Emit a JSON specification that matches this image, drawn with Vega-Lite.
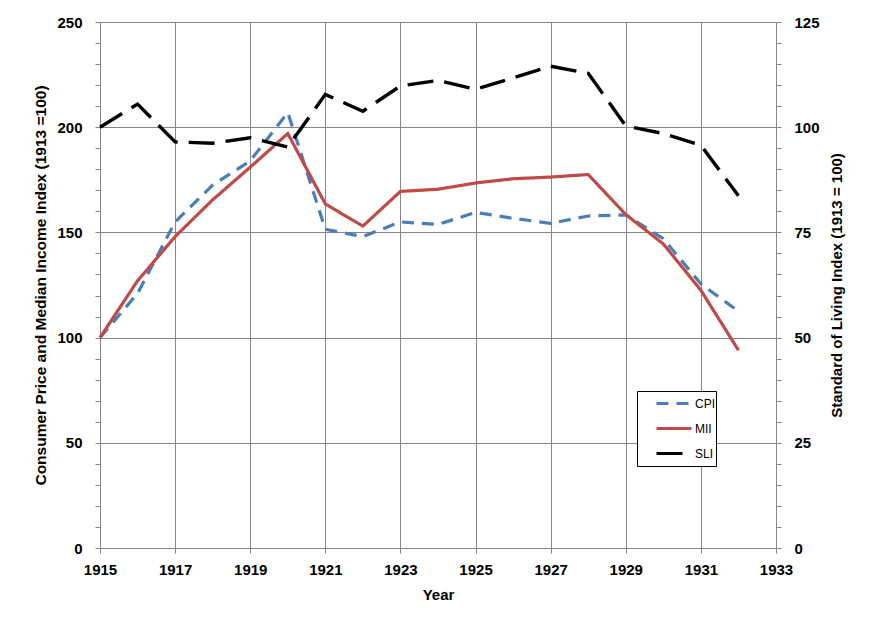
{
  "$schema": "https://vega.github.io/schema/vega-lite/v6.json",
  "width": 676,
  "height": 526,
  "autosize": {"type": "none"},
  "padding": {"left": 100, "top": 22, "right": 93, "bottom": 72},
  "background": "white",
  "config": {
    "view": {"stroke": null},
    "font": "Liberation Sans",
    "axis": {
      "domainColor": "#868686",
      "tickColor": "#868686",
      "gridColor": "#868686",
      "labelFont": "Liberation Sans",
      "labelFontWeight": "bold",
      "labelFontSize": 15,
      "labelColor": "black",
      "titleFont": "Liberation Sans",
      "titleFontWeight": "bold",
      "titleFontSize": 15,
      "titleColor": "black",
      "tickSize": 5,
      "labelOverlap": false,
      "labelFlush": false,
      "labelBound": false
    },
    "legend": {
      "orient": "none",
      "legendX": 537,
      "legendY": 369,
      "padding": 0,
      "strokeColor": "black",
      "fillColor": "white",
      "symbolType": "stroke",
      "symbolSize": 1225,
      "symbolStrokeWidth": 3,
      "symbolOffset": 18,
      "clipHeight": 25,
      "rowPadding": 0,
      "labelFont": "Liberation Sans",
      "labelFontSize": 12,
      "labelOffset": 2,
      "labelColor": "black"
    }
  },
  "datasets": {
    "left": [
      {"year": 1915, "series": "CPI", "value": 100},
      {"year": 1916, "series": "CPI", "value": 121},
      {"year": 1917, "series": "CPI", "value": 155},
      {"year": 1918, "series": "CPI", "value": 172.5},
      {"year": 1919, "series": "CPI", "value": 184},
      {"year": 1920, "series": "CPI", "value": 207},
      {"year": 1921, "series": "CPI", "value": 151.5},
      {"year": 1922, "series": "CPI", "value": 148},
      {"year": 1923, "series": "CPI", "value": 155},
      {"year": 1924, "series": "CPI", "value": 153.8},
      {"year": 1925, "series": "CPI", "value": 159.5},
      {"year": 1926, "series": "CPI", "value": 156.7},
      {"year": 1927, "series": "CPI", "value": 154.3},
      {"year": 1928, "series": "CPI", "value": 157.8},
      {"year": 1929, "series": "CPI", "value": 158.3},
      {"year": 1930, "series": "CPI", "value": 147},
      {"year": 1931, "series": "CPI", "value": 125.5},
      {"year": 1932, "series": "CPI", "value": 112.5},
      {"year": 1915, "series": "MII", "value": 100},
      {"year": 1916, "series": "MII", "value": 127},
      {"year": 1917, "series": "MII", "value": 148},
      {"year": 1918, "series": "MII", "value": 165.5},
      {"year": 1919, "series": "MII", "value": 181},
      {"year": 1920, "series": "MII", "value": 197},
      {"year": 1921, "series": "MII", "value": 163.5},
      {"year": 1922, "series": "MII", "value": 153},
      {"year": 1923, "series": "MII", "value": 169.5},
      {"year": 1924, "series": "MII", "value": 170.5},
      {"year": 1925, "series": "MII", "value": 173.5},
      {"year": 1926, "series": "MII", "value": 175.5},
      {"year": 1927, "series": "MII", "value": 176.3},
      {"year": 1928, "series": "MII", "value": 177.5},
      {"year": 1929, "series": "MII", "value": 158.5},
      {"year": 1930, "series": "MII", "value": 144.5},
      {"year": 1931, "series": "MII", "value": 122.5},
      {"year": 1932, "series": "MII", "value": 94}
    ],
    "right": [
      {"year": 1915, "series": "SLI", "value": 100},
      {"year": 1916, "series": "SLI", "value": 105.5},
      {"year": 1917, "series": "SLI", "value": 96.5},
      {"year": 1918, "series": "SLI", "value": 96.2},
      {"year": 1919, "series": "SLI", "value": 97.5},
      {"year": 1920, "series": "SLI", "value": 95.3},
      {"year": 1921, "series": "SLI", "value": 107.8},
      {"year": 1922, "series": "SLI", "value": 103.8},
      {"year": 1923, "series": "SLI", "value": 109.8},
      {"year": 1924, "series": "SLI", "value": 111.1},
      {"year": 1925, "series": "SLI", "value": 109},
      {"year": 1926, "series": "SLI", "value": 111.7},
      {"year": 1927, "series": "SLI", "value": 114.5},
      {"year": 1928, "series": "SLI", "value": 112.8},
      {"year": 1929, "series": "SLI", "value": 100.3},
      {"year": 1930, "series": "SLI", "value": 98.5},
      {"year": 1931, "series": "SLI", "value": 95.7},
      {"year": 1932, "series": "SLI", "value": 83.7}
    ]
  },
  "layer": [
    {
      "data": {"name": "left"},
      "mark": {"type": "line", "strokeWidth": 3.2},
      "encoding": {
        "x": {
          "field": "year",
          "type": "quantitative",
          "scale": {"domain": [1915, 1933], "nice": false, "zero": false},
          "axis": {
            "title": "Year",
            "values": [1915, 1916, 1917, 1918, 1919, 1920, 1921, 1922, 1923, 1924, 1925, 1926, 1927, 1928, 1929, 1930, 1931, 1932, 1933],
            "format": "d",
            "labelExpr": "datum.value % 2 == 1 ? datum.label : ''",
            "gridOpacity": {"condition": {"test": "datum.value % 2 == 1", "value": 1}, "value": 0},
            "labelPadding": 9,
            "titlePadding": 10
          }
        },
        "y": {
          "field": "value",
          "type": "quantitative",
          "scale": {"domain": [0, 250], "nice": false},
          "axis": {
            "title": "Consumer Price and Median Income Index (1913 =100)",
            "titleFontSize": 15.5,
            "values": [0, 10, 20, 30, 40, 50, 60, 70, 80, 90, 100, 110, 120, 130, 140, 150, 160, 170, 180, 190, 200, 210, 220, 230, 240, 250],
            "labelExpr": "datum.value % 50 == 0 ? datum.label : ''",
            "gridOpacity": {"condition": {"test": "datum.value % 50 == 0", "value": 1}, "value": 0},
            "labelPadding": 13,
            "titlePadding": 8
          }
        },
        "color": {
          "field": "series",
          "type": "nominal",
          "title": null,
          "scale": {"domain": ["CPI", "MII", "SLI"], "range": ["#4A7EBB", "#BE4B48", "#000000"]},
          "legend": {"labelExpr": "datum.label + '\u00a0\u00a0\u00a0\u00a0\u00a0\u00a0'"}
        },
        "strokeDash": {
          "field": "series",
          "type": "nominal",
          "title": null,
          "scale": {"domain": ["CPI", "MII", "SLI"], "range": [[12, 8], [1, 0], [26, 11]]},
          "legend": {"labelExpr": "datum.label + '\u00a0\u00a0\u00a0\u00a0\u00a0\u00a0'"}
        }
      }
    },
    {
      "data": {"name": "right"},
      "mark": {"type": "line", "strokeWidth": 3.4},
      "encoding": {
        "x": {"field": "year", "type": "quantitative"},
        "y": {
          "field": "value",
          "type": "quantitative",
          "scale": {"domain": [0, 125], "nice": false},
          "axis": {
            "orient": "right",
            "title": "Standard of Living Index (1913 = 100)",
            "titleAngle": 270,
            "titleBaseline": "top",
            "grid": false,
            "values": [0, 5, 10, 15, 20, 25, 30, 35, 40, 45, 50, 55, 60, 65, 70, 75, 80, 85, 90, 95, 100, 105, 110, 115, 120, 125],
            "labelExpr": "datum.value % 25 == 0 ? datum.label : ''",
            "labelPadding": 13,
            "titlePadding": 10
          }
        },
        "color": {
          "field": "series",
          "type": "nominal",
          "title": null,
          "scale": {"domain": ["CPI", "MII", "SLI"], "range": ["#4A7EBB", "#BE4B48", "#000000"]},
          "legend": {"labelExpr": "datum.label + '\u00a0\u00a0\u00a0\u00a0\u00a0\u00a0'"}
        },
        "strokeDash": {
          "field": "series",
          "type": "nominal",
          "title": null,
          "scale": {"domain": ["CPI", "MII", "SLI"], "range": [[12, 8], [1, 0], [26, 11]]},
          "legend": {"labelExpr": "datum.label + '\u00a0\u00a0\u00a0\u00a0\u00a0\u00a0'"}
        }
      }
    }
  ],
  "resolve": {"scale": {"y": "independent"}}
}
